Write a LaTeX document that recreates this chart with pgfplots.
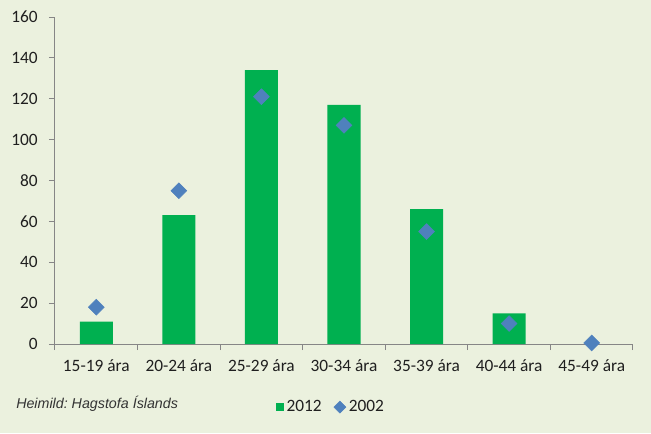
\documentclass[border=0pt]{standalone}
\usepackage{pgfplots}
\pgfplotsset{compat=1.18}
\usepackage{fontspec}
\setmainfont{Carlito}
\newfontfamily\arialfont{Liberation Sans}
\definecolor{bg}{HTML}{EBF1DE}
\definecolor{barg}{HTML}{00B050}
\definecolor{diab}{HTML}{4F81BD}
\definecolor{axg}{HTML}{868686}
\frenchspacing
\begin{document}
\begin{tikzpicture}[x=0.75pt,y=0.75pt]
\fill[bg] (0,0) rectangle (651,433);
\begin{axis}[
  at={(41.25pt,66.75pt)}, anchor=south west,
  scale only axis, width=433.5pt, height=245.25pt,
  xmin=-0.5, xmax=6.5, ymin=0, ymax=160,
  axis x line*=bottom, axis y line*=left,
  axis line style={axg, line width=0.75pt},
  ytick={0,20,...,160},
  xtick={-0.5,0.5,...,6.5},
  x tick label as interval,
  xticklabels={15-19 ára,20-24 ára,25-29 ára,30-34 ára,35-39 ára,40-44 ára,45-49 ára},
  tick align=outside,
  major tick length=4.5pt,
  tick style={axg, line width=0.75pt},
  tick label style={font=\fontsize{13}{15}\selectfont, text=black!88},
  yticklabel style={xshift=-5pt},
  xticklabel style={yshift=-4pt},
  /pgf/number format/assume math mode=true,
  legend style={at={(axis description cs:0.478,-0.193)}, anchor=center,
    draw=none, fill=none, legend columns=2,
    font=\fontsize{13}{15}\selectfont, text=black!88,
    /tikz/every even column/.append style={column sep=7pt}},
]
\addplot[ybar, bar width=0.4, fill=barg, draw=none,
  legend image code/.code={\fill[barg] (0pt,-3pt) rectangle (6pt,3pt);}]
  coordinates {(0,11) (1,63) (2,134) (3,117) (4,66) (5,15)};
\addlegendentry{2012}
\addplot[only marks, mark=square*, mark size=4.2pt,
  mark options={rotate=45, fill=diab, draw=diab},
  legend image code/.code={\fill[diab] (4.5pt,0) -- (9pt,4.5pt) -- (13.5pt,0) -- (9pt,-4.5pt) -- cycle;}]
  coordinates {(0,18) (1,75) (2,121) (3,107) (4,55) (5,10) (6,0.5)};
\addlegendentry{2002}
\end{axis}
\node[anchor=west, inner sep=0pt, font=\arialfont\itshape\fontsize{10.7}{12}\selectfont, text=black!80] at (16,29) {Heimild: Hagstofa Íslands};
\end{tikzpicture}
\end{document}
